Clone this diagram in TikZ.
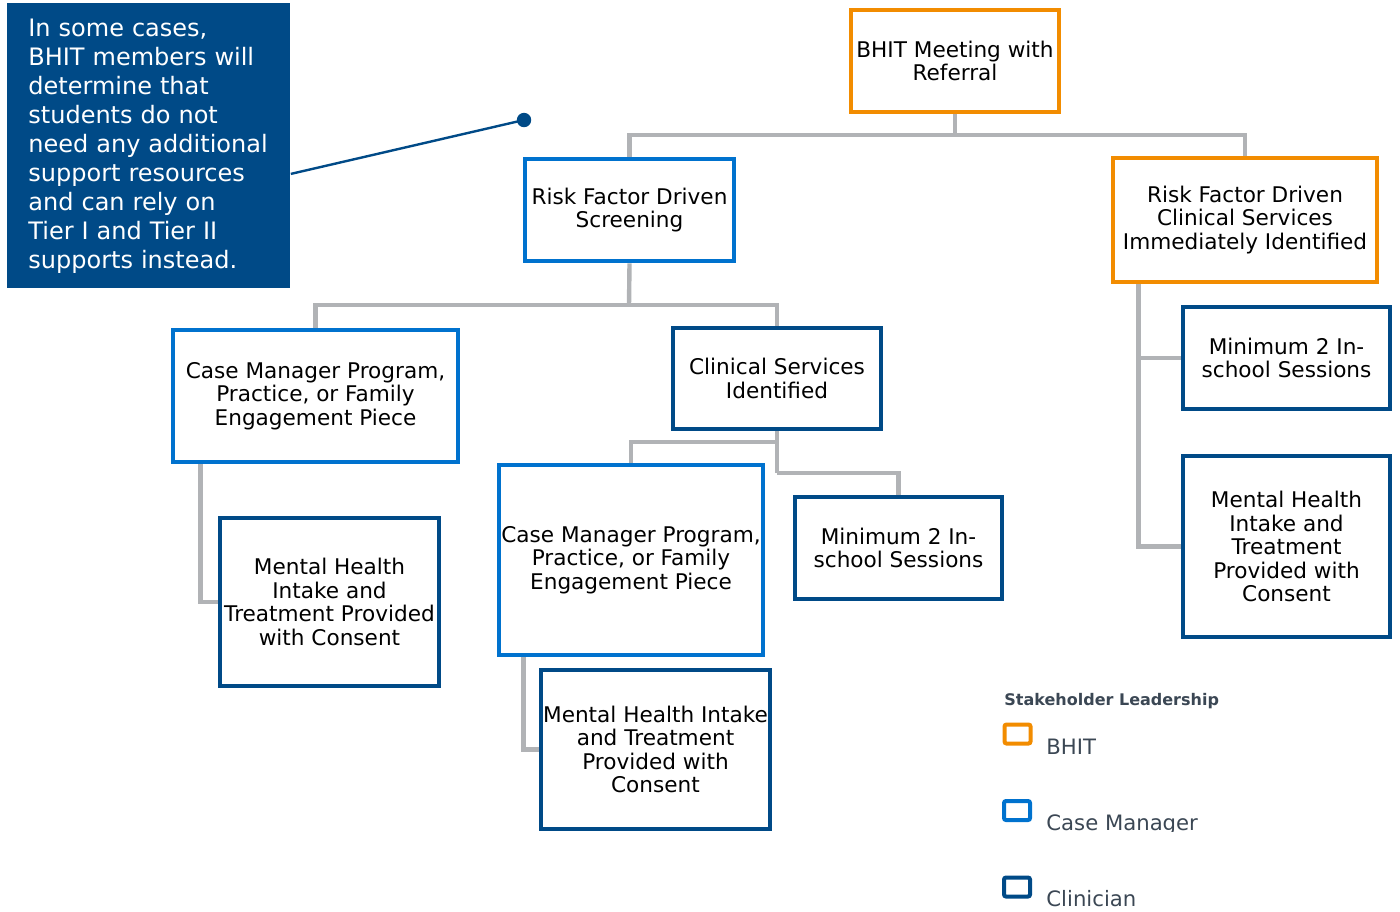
\documentclass[tikz,border=0pt]{standalone}
\usepackage{fontspec}
\setmainfont{DejaVu Sans}
\usetikzlibrary{positioning}

\definecolor{bhitorange}{RGB}{242,140,0}
\definecolor{cmblue}{RGB}{0,114,206}
\definecolor{clinblue}{RGB}{0,74,135}
\definecolor{conngray}{RGB}{177,179,182}
\definecolor{legendtext}{RGB}{59,71,84}

\tikzset{
  box/.style={draw, fill=white, line width=2.4pt, align=center, inner sep=0pt,
    font=\fontsize{10.8}{11.75}\selectfont},
  bhitbox/.style={box, draw=bhitorange},
  cmbox/.style={box, draw=cmblue},
  clinbox/.style={box, draw=clinblue},
  conn/.style={draw=conngray, line width=2.2pt},
  keybox/.style={draw, line width=2pt, rounded corners=1pt, minimum width=13pt, minimum height=9.5pt, inner sep=0pt},
  keylabel/.style={anchor=base west, inner sep=0pt, text=legendtext, font=\fontsize{10.6}{12}\selectfont}
}

\begin{document}
\begin{tikzpicture}[x=0.5pt,y=-0.5pt]
\useasboundingbox (0,0) rectangle (1400,911);

% callout
\node[fill=clinblue, text=white, align=left, anchor=north west, inner xsep=10.5pt, inner ysep=0pt,
  text width=120.5pt, minimum height=142.5pt, font=\fontsize{12}{14.5}\selectfont] (note) at (7,3)
  {In some cases,\\BHIT members will\\determine that\\students do not\\need any additional\\support resources\\and can rely on\\Tier I and Tier II\\supports instead.};
\coordinate (pin) at (524,120);
\draw[clinblue, line width=1.2pt] ([yshift=-14pt]note.east) -- (pin);
\fill[clinblue] (pin) circle (3.6pt);

% connectors
\coordinate (bar1) at (955,135);
\coordinate (bar2) at (629,305);
\coordinate (bar3) at (777,442);
\coordinate (bar4) at (777,473);

\node[bhitbox, minimum width=104pt, minimum height=51pt] (bhit) at (955,61) {BHIT Meeting with\\Referral};
\node[cmbox, minimum width=104.5pt, minimum height=51pt] (screen) at (629.5,210) {Risk Factor Driven\\Screening};
\node[bhitbox, minimum width=132pt, minimum height=62pt] (immed) at (1245,220) {Risk Factor Driven\\Clinical Services\\Immediately Identified};
\node[cmbox, minimum width=142.5pt, minimum height=66pt] (cmleft) at (315.5,396) {Case Manager Program,\\Practice, or Family\\Engagement Piece};
\node[clinbox, minimum width=104pt, minimum height=50.5pt] (clin) at (777,378.5) {Clinical Services\\Identified};
\node[clinbox, minimum width=109.5pt, minimum height=84pt] (mhleft) at (329.5,602) {Mental Health\\Intake and\\Treatment Provided\\with Consent};
\node[cmbox, minimum width=132pt, minimum height=95pt] (cmmid) at (631,560) {Case Manager Program,\\Practice, or Family\\Engagement Piece};
\node[clinbox, minimum width=103.5pt, minimum height=51pt] (minmid) at (898.5,548) {Minimum 2 In-\\school Sessions};
\node[clinbox, minimum width=114.5pt, minimum height=79.5pt] (mhmid) at (655.5,749.5) {Mental Health Intake\\and Treatment\\Provided with\\Consent};
\node[clinbox, minimum width=103.5pt, minimum height=51pt] (minright) at (1286.5,358) {Minimum 2 In-\\school Sessions};
\node[clinbox, minimum width=103.5pt, minimum height=90.5pt] (mhright) at (1286.5,546.5) {Mental Health\\Intake and\\Treatment\\Provided with\\Consent};

\draw[conn] (bhit.south) -- (bar1);
\draw[conn] (screen.north) |- (bar1) -| (immed.north);
\draw[conn] (screen.south) -- (bar2);
\draw[conn] (cmleft.north) |- (bar2) -| (clin.north);
\draw[conn] (clin.south) -- (bar4);
\draw[conn] (cmmid.north) |- (bar3);
\draw[conn] (bar4) -| (minmid.north);
\draw[conn] ([xshift=15pt]cmleft.south west) |- (mhleft.west);
\draw[conn] ([xshift=13.5pt]cmmid.south west) |- (mhmid.west);
\draw[conn] ([xshift=14pt]immed.south west) |- (minright.west);
\draw[conn] ([xshift=14pt]immed.south west) |- (mhright.west);

% legend
\node[anchor=base west, inner sep=0pt, text=legendtext, font=\fontsize{8}{9}\selectfont\bfseries] (keytitle) at (1004,705) {Stakeholder Leadership};
\node[keybox, draw=bhitorange] (keybhit) at (1017.5,734) {};
\node[keybox, draw=cmblue] (keycm) at (1017,810.5) {};
\node[keybox, draw=clinblue] (keyclin) at (1017,887) {};
\node[keylabel] (labbhit) at (1046,754) {BHIT};
\begin{scope}
\clip (1040,790) rectangle (1300,831);
\node[keylabel] (labcm) at (1046,830) {Case Manager};
\end{scope}
\node[keylabel] (labclin) at (1046,906) {Clinician};
\end{tikzpicture}
\end{document}
